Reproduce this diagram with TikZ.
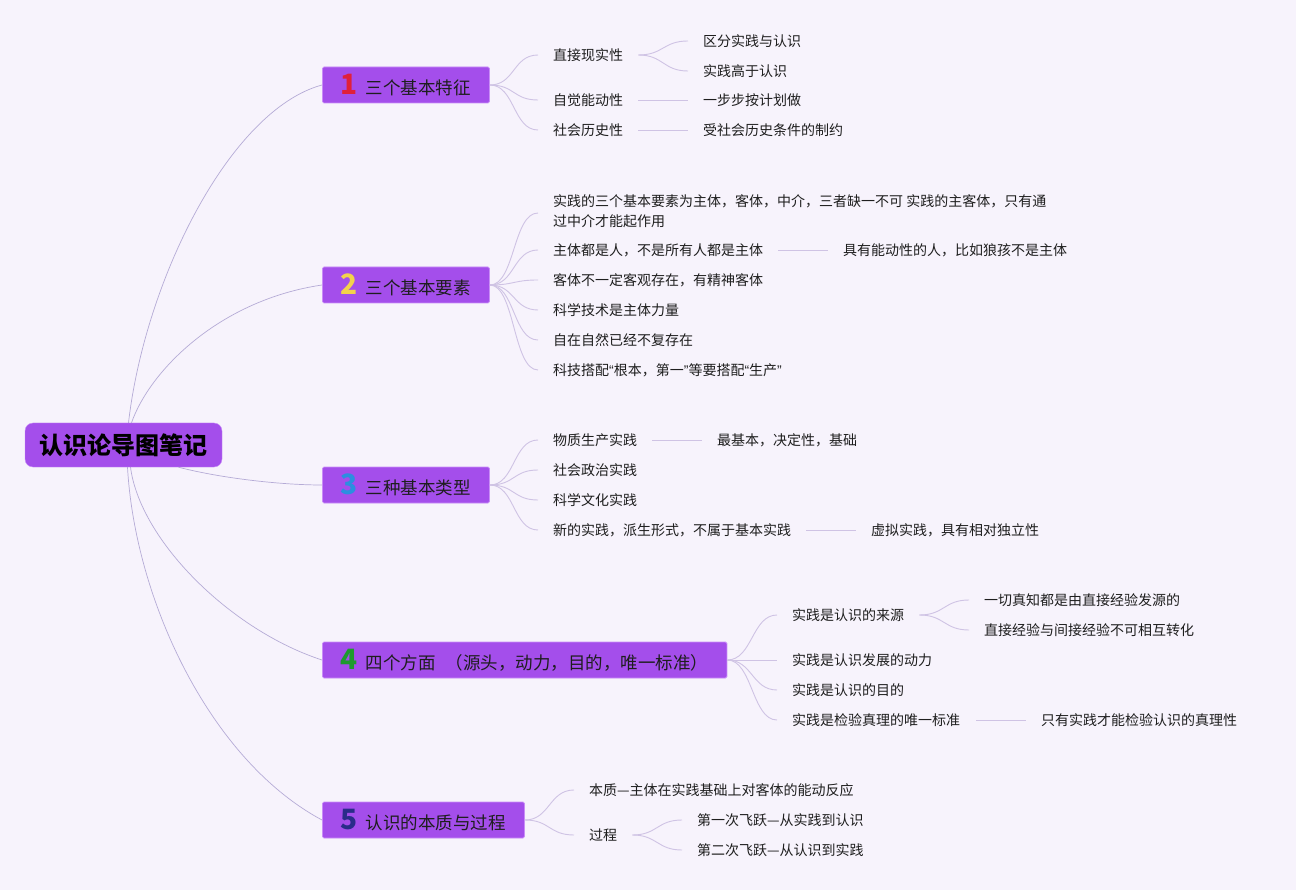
\documentclass[tikz,border=0pt]{standalone}
\usepackage{fontspec}
\setmainfont{Noto Sans CJK SC}
\newfontfamily\latq{Liberation Sans}
\definecolor{bgc}{HTML}{F7F3FC}
\definecolor{boxc}{HTML}{A44EEB}
\definecolor{boxb}{HTML}{C98DF7}
\definecolor{linec}{HTML}{CFC3E4}
\definecolor{rlinec}{HTML}{B5ABD6}
\definecolor{txt}{HTML}{1E1E1E}
\definecolor{dA}{HTML}{E0203A}
\definecolor{dB}{HTML}{F3D24B}
\definecolor{dC}{HTML}{2B8FE0}
\definecolor{dD}{HTML}{1E9A2E}
\definecolor{dE}{HTML}{2A2C8A}
\newcommand{\dg}[2]{{\fontsize{28pt}{28pt}\selectfont\bfseries\color{#1}#2}\hspace{8pt}}
\tikzset{
  rootbox/.style={draw=boxb, fill=boxc, rounded corners=8pt, minimum width=197pt, minimum height=44pt,
    inner sep=0pt, text=black, font=\fontsize{24pt}{28pt}\selectfont\bfseries},
  branchbox/.style={draw=boxb, fill=boxc, line width=0.8pt, rounded corners=1.5pt, minimum height=36pt,
    inner xsep=18.5pt, inner ysep=0pt, anchor=west, text=txt, font=\fontsize{17.5pt}{21pt}\selectfont},
  leaf/.style={anchor=west, inner sep=0pt, text=txt, font=\fontsize{14pt}{20pt}\selectfont, align=left},
  conn/.style={draw=linec, line width=0.9pt},
  rootconn/.style={draw=rlinec, line width=0.7pt}
}
\newcommand{\bcurve}[2]{\draw[conn] (#1.east) .. controls +(25pt,0) and +(-25pt,0) .. ([xshift=-15pt]#2.west);}
\newcommand{\fork}[2]{\draw[conn] ([xshift=15pt]#1.east) .. controls +(25pt,0) and +(-25pt,0) .. ([xshift=-15pt]#2.west);}
\newcommand{\sline}[1]{\draw[conn] ([xshift=-65pt]#1.west) -- ([xshift=-15pt]#1.west);}
\begin{document}
\begin{tikzpicture}[x=1pt,y=-1pt]
\fill[bgc] (0,0) rectangle (1296,890);
\useasboundingbox (0,0) rectangle (1296,890);

% root
\node[rootbox] (root) at (123.5,445) {认识论导图笔记};

% branches
\node[branchbox] (b1) at (322,85) {\dg{dA}{1}三个基本特征};
\node[branchbox] (b2) at (322,285) {\dg{dB}{2}三个基本要素};
\node[branchbox] (b3) at (322,485) {\dg{dC}{3}三种基本类型};
\node[branchbox] (b4) at (322,660) {\dg{dD}{4}四个方面\hspace{10pt}（源头，动力，目的，唯一标准）};
\node[branchbox] (b5) at (322,820) {\dg{dE}{5}认识的本质与过程};

% root connectors
\draw[rootconn] ([xshift=5pt]root.north) .. controls (145,280) and (230,110) .. (b1.west);
\draw[rootconn] ([xshift=8pt]root.north) .. controls (150,370) and (220,300) .. (b2.west);
\draw[rootconn] ([xshift=55pt]root.south) .. controls (220,478) and (280,485) .. (b3.west);
\draw[rootconn] ([xshift=7pt]root.south) .. controls (140,540) and (230,630) .. (b4.west);
\draw[rootconn] ([xshift=4pt]root.south) .. controls (135,600) and (210,760) .. (b5.west);

% branch 1
\node[leaf] (c11) at (553,55) {直接现实性};
\node[leaf] (c12) at (553,100) {自觉能动性};
\node[leaf] (c13) at (553,130) {社会历史性};
\node[leaf] (g111) at (703,41) {区分实践与认识};
\node[leaf] (g112) at (703,71) {实践高于认识};
\node[leaf] (g121) at (703,100) {一步步按计划做};
\node[leaf] (g131) at (703,130) {受社会历史条件的制约};
\bcurve{b1}{c11}\bcurve{b1}{c12}\bcurve{b1}{c13}
\fork{c11}{g111}\fork{c11}{g112}
\sline{g121}\sline{g131}

% branch 2
\node[leaf] (c21) at (553,211) {实践的三个基本要素为主体，客体，中介，三者缺一不可 实践的主客体，只有通\\过中介才能起作用};
\node[leaf] (c22) at (553,250) {主体都是人，不是所有人都是主体};
\node[leaf] (g221) at (843,250) {具有能动性的人，比如狼孩不是主体};
\node[leaf] (c23) at (553,280) {客体不一定客观存在，有精神客体};
\node[leaf] (c24) at (553,310) {科学技术是主体力量};
\node[leaf] (c25) at (553,340) {自在自然已经不复存在};
\node[leaf] (c26) at (553,370) {科技搭配{\latq “}根本，第一{\latq ”}等要搭配{\latq “}生产{\latq ”}};
\draw[conn] (b2.east) .. controls +(25pt,0) and +(-25pt,0) .. ([xshift=-15pt,yshift=-2pt]c21.west);
\bcurve{b2}{c22}\bcurve{b2}{c23}\bcurve{b2}{c24}\bcurve{b2}{c25}\bcurve{b2}{c26}
\sline{g221}

% branch 3
\node[leaf] (c31) at (553,440) {物质生产实践};
\node[leaf] (g311) at (717,440) {最基本，决定性，基础};
\node[leaf] (c32) at (553,470) {社会政治实践};
\node[leaf] (c33) at (553,500) {科学文化实践};
\node[leaf] (c34) at (553,530) {新的实践，派生形式，不属于基本实践};
\node[leaf] (g341) at (871,530) {虚拟实践，具有相对独立性};
\bcurve{b3}{c31}\bcurve{b3}{c32}\bcurve{b3}{c33}\bcurve{b3}{c34}
\sline{g311}\sline{g341}

% branch 4
\node[leaf] (c41) at (792,615) {实践是认识的来源};
\node[leaf] (g411) at (984,600) {一切真知都是由直接经验发源的};
\node[leaf] (g412) at (984,630) {直接经验与间接经验不可相互转化};
\node[leaf] (c42) at (792,660) {实践是认识发展的动力};
\node[leaf] (c43) at (792,690) {实践是认识的目的};
\node[leaf] (c44) at (792,720) {实践是检验真理的唯一标准};
\node[leaf] (g441) at (1041,720) {只有实践才能检验认识的真理性};
\bcurve{b4}{c41}\bcurve{b4}{c42}\bcurve{b4}{c43}\bcurve{b4}{c44}
\fork{c41}{g411}\fork{c41}{g412}
\sline{g441}

% branch 5
\node[leaf] (c51) at (589,790) {本质—主体在实践基础上对客体的能动反应};
\node[leaf] (c52) at (589,835) {过程};
\node[leaf] (g521) at (697,820) {第一次飞跃—从实践到认识};
\node[leaf] (g522) at (697,850) {第二次飞跃—从认识到实践};
\bcurve{b5}{c51}\bcurve{b5}{c52}
\fork{c52}{g521}\fork{c52}{g522}
\end{tikzpicture}
\end{document}
